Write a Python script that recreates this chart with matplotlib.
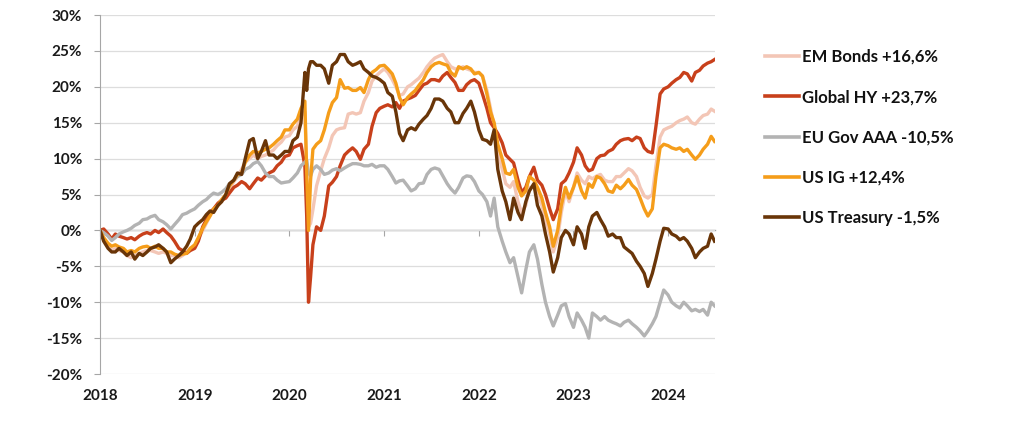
import pandas as pd
import matplotlib
matplotlib.use("Agg")
import matplotlib.pyplot as plt
import matplotlib.dates as mdates
from matplotlib.ticker import MultipleLocator, FuncFormatter

# ── Données (points bimensuels) ──
# dates : 1er et 15 de chaque mois + 2 points extra en mars 2020 + fin juin 2024
dates = list(pd.date_range("2018-01-01", "2024-06-15", freq="SMS"))
dates += [pd.Timestamp("2020-03-08"), pd.Timestamp("2020-03-23"), pd.Timestamp("2024-06-28")]
dates = sorted(dates)

labels = ["EM Bonds +16,6%", "Global HY +23,7%", "EU Gov AAA -10,5%", "US IG +12,4%", "US Treasury -1,5%"]
colors = ["#F3C6B6", "#C8401B", "#B3B3B3", "#F59D1A", "#693508"]

em_bonds = [
    0, -1.2, -2.2, -2.8, -2.5, -2.8, -3.0, -3.5, -3.8, -3.5, -3.2, -3.0, -2.8, -2.8, -3.0, -3.2, -3.0, -3.2, -3.5, -3.5, -3.8, -3.5, -3.0, -2.5,
    -2.2, -1.2, 0.0, 1.0, 2.0, 2.8, 3.5, 4.0, 4.8, 5.8, 6.8, 7.5, 8.5, 9.5, 10.0, 10.5, 10.0, 10.3, 10.5, 10.8, 11.2, 11.8, 12.3, 13.0,
    13.2, 14.0, 14.5, 16.0, 16.5, 8.0, 0.5, 1.0, 2.9, 6.2, 8.3, 10.0, 11.5, 13.2, 14.0, 14.2, 14.3, 16.2, 16.4, 16.2, 16.4, 18.0, 19.2, 20.8, 21.5, 22.0,
    22.5, 22.0, 21.0, 20.0, 18.8, 19.0, 20.0, 20.3, 20.8, 21.2, 22.0, 22.8, 23.5, 24.0, 24.3, 24.5, 23.5, 22.8, 22.5, 22.5, 22.8, 22.5, 22.3, 22.0,
    22.0, 21.5, 19.5, 17.0, 14.5, 11.0, 8.5, 6.5, 6.0, 6.8, 4.0, 2.5, 3.5, 6.0, 6.0, 5.0, 3.5, 1.5, -0.5, -3.0, -1.0, 2.5, 5.5, 4.0,
    6.0, 8.0, 7.0, 6.5, 7.5, 7.2, 7.6, 7.8, 7.0, 6.8, 6.8, 7.5, 7.5, 8.0, 8.6, 8.3, 7.5, 6.0, 4.8, 4.5, 5.0, 9.0, 13.0, 14.0,
    14.3, 14.5, 15.0, 15.3, 15.5, 15.8, 15.0, 14.8, 15.5, 16.0, 16.2, 16.9, 16.6,
]

global_hy = [
    0, 0.2, -0.5, -1.2, -0.5, -0.8, -1.0, -1.2, -1.0, -1.3, -0.8, -0.5, -0.3, -0.5, 0.0, -0.3, 0.2, -0.3, -0.8, -1.5, -2.5, -2.8, -3.2, -2.8,
    -2.5, -1.5, 0.5, 1.5, 2.5, 3.0, 3.8, 4.2, 4.5, 5.2, 6.0, 6.3, 6.8, 6.5, 5.8, 6.5, 7.3, 7.0, 7.6, 8.0, 8.3, 9.0, 9.5, 10.3,
    10.5, 11.5, 11.8, 12.0, 9.0, 2.0, -10.0, -6.5, -2.0, 0.5, 0.0, 2.0, 6.2, 6.7, 7.5, 9.0, 10.5, 11.0, 11.5, 11.0, 9.9, 11.3, 12.0, 14.5, 16.4, 17.0,
    17.3, 17.5, 17.2, 17.8, 17.0, 18.0, 18.3, 18.5, 18.8, 19.5, 20.3, 20.5, 21.0, 21.0, 20.8, 21.5, 22.0, 21.3, 20.6, 19.5, 19.5, 20.3, 20.8, 21.0,
    20.5, 19.0, 17.0, 15.0, 14.3, 13.5, 12.2, 10.5, 9.9, 9.4, 7.0, 5.3, 6.0, 7.5, 8.8, 7.0, 6.3, 5.0, 3.0, 1.5, 3.0, 6.5, 7.0, 8.0,
    9.5, 11.5, 10.5, 9.0, 8.3, 8.5, 10.0, 10.4, 10.5, 11.0, 11.3, 12.0, 12.5, 12.7, 12.8, 12.5, 13.0, 12.8, 11.5, 11.0, 10.8, 14.5, 19.0, 19.7,
    20.0, 20.5, 21.0, 21.3, 22.0, 21.8, 20.8, 22.0, 22.3, 22.9, 23.3, 23.5, 23.8,
]

eu_gov_aaa = [
    0, -0.3, -0.8, -1.4, -1.0, -0.5, -0.2, 0.0, 0.3, 0.7, 1.0, 1.5, 1.6, 1.9, 2.1, 1.5, 1.2, 0.8, 0.2, 0.8, 1.5, 2.2, 2.4, 2.7,
    3.0, 3.5, 4.0, 4.3, 4.8, 5.2, 5.0, 5.3, 5.8, 6.5, 7.0, 7.5, 7.8, 8.5, 8.8, 9.3, 9.6, 9.0, 8.0, 7.5, 7.5, 7.0, 6.6, 6.7,
    6.8, 7.3, 8.0, 9.0, 9.5, 9.8, 8.0, 7.6, 8.5, 9.0, 8.5, 7.8, 8.0, 8.4, 8.6, 8.3, 8.7, 9.0, 9.3, 9.3, 9.2, 9.0, 9.0, 9.2, 8.8, 9.0,
    9.0, 8.5, 7.5, 6.6, 6.9, 7.0, 6.2, 5.5, 5.8, 6.5, 6.6, 7.8, 8.5, 8.7, 8.5, 7.6, 6.5, 5.8, 5.2, 6.0, 7.3, 7.6, 7.5, 6.8,
    5.5, 5.0, 4.0, 2.0, 4.5, 0.5, -1.5, -3.0, -4.5, -3.8, -6.5, -8.7, -5.5, -3.0, -2.0, -4.0, -7.5, -10.0, -12.0, -13.3, -11.8, -10.5, -10.2, -12.0,
    -13.5, -11.5, -12.5, -13.5, -15.0, -11.5, -12.0, -12.5, -12.0, -12.5, -12.8, -13.0, -13.3, -12.8, -12.5, -13.0, -13.5, -14.0, -14.7, -14.0, -13.0, -12.0, -10.0, -8.3,
    -9.0, -10.0, -10.5, -10.8, -10.0, -10.5, -11.2, -11.0, -11.3, -11.0, -11.8, -10.0, -10.5,
]

us_ig = [
    0, -1.0, -1.8, -2.2, -2.0, -2.3, -2.5, -3.0, -2.8, -3.0, -2.5, -2.3, -2.2, -2.5, -2.2, -2.5, -2.5, -3.0, -3.0, -3.3, -3.5, -3.3, -3.2, -2.5,
    -2.0, -1.0, 0.3, 1.2, 2.0, 3.0, 3.5, 4.3, 5.0, 6.2, 7.0, 7.8, 8.0, 9.5, 10.5, 11.0, 10.8, 11.0, 11.3, 11.5, 12.0, 12.5, 13.0, 14.0,
    14.0, 14.8, 15.5, 17.0, 18.0, 8.0, 0.0, 7.0, 11.3, 12.0, 12.5, 14.0, 16.4, 17.8, 18.5, 21.0, 19.8, 19.9, 19.5, 19.5, 19.9, 19.2, 21.0, 22.0, 22.4, 22.9,
    23.0, 22.5, 21.8, 20.5, 18.5, 17.5, 18.5, 19.0, 19.5, 20.2, 21.0, 22.0, 22.8, 23.2, 23.4, 23.2, 23.0, 22.0, 21.5, 22.8, 22.5, 22.8, 22.5, 21.8,
    22.0, 21.5, 19.0, 16.5, 15.0, 12.0, 10.0, 8.0, 7.8, 8.5, 6.0, 4.8, 5.5, 7.5, 7.0, 6.0, 4.5, 2.5, 0.5, -2.2, 0.0, 3.5, 6.0, 4.5,
    6.0, 7.5, 5.5, 4.5, 6.5, 6.0, 7.5, 7.3, 6.5, 5.5, 5.3, 6.3, 5.8, 6.3, 7.1, 6.3, 5.7, 4.5, 3.0, 2.0, 3.0, 7.5, 11.5, 12.0,
    11.8, 11.5, 11.3, 11.5, 11.0, 11.3, 10.5, 9.9, 10.5, 11.3, 12.0, 13.1, 12.4,
]

us_treasury = [
    0, -1.5, -2.5, -3.0, -3.0, -2.5, -3.0, -3.5, -3.0, -4.0, -3.2, -3.5, -3.0, -2.5, -2.3, -2.0, -2.5, -3.0, -4.5, -4.0, -3.5, -3.0, -2.2, -1.2,
    0.5, 1.0, 1.5, 2.2, 2.7, 2.5, 3.5, 4.0, 5.0, 6.5, 7.0, 8.0, 7.8, 10.0, 12.5, 12.8, 10.0, 11.0, 12.5, 10.5, 10.5, 10.0, 10.5, 11.0,
    11.0, 12.5, 13.0, 15.0, 22.0, 19.5, 22.5, 23.5, 23.5, 23.0, 23.0, 22.5, 20.5, 23.0, 23.5, 24.5, 24.5, 23.5, 23.0, 23.2, 23.5, 22.5, 22.0, 21.5, 21.3, 21.0,
    20.5, 19.2, 18.7, 16.5, 13.5, 12.5, 14.0, 14.3, 14.0, 14.8, 15.5, 16.0, 17.0, 18.3, 18.3, 18.0, 17.0, 16.5, 15.0, 15.0, 16.3, 17.0, 18.0, 16.5,
    14.0, 12.7, 12.5, 12.0, 14.0, 8.5, 5.5, 4.0, 1.5, 4.5, 2.5, 1.5, 4.0, 5.5, 6.5, 3.5, 2.0, -0.5, -3.0, -5.8, -3.8, -1.0, 0.0, -0.5,
    -2.0, 0.5, -0.5, -2.5, 0.5, 2.0, 2.5, 1.5, 0.5, -0.8, -0.5, -1.0, -1.0, -2.3, -2.8, -3.2, -4.3, -5.0, -6.0, -7.8, -6.0, -4.0, -1.5, 0.3,
    0.2, -0.5, -0.8, -1.3, -1.0, -1.5, -2.5, -3.8, -3.0, -2.5, -2.2, -0.5, -1.5,
]

series = [em_bonds, global_hy, eu_gov_aaa, us_ig, us_treasury]
for s in series:
    assert len(s) == len(dates), (len(s), len(dates))

# ── Graphique ──
plt.rcParams["font.family"] = ["Lato", "DejaVu Sans"]

fig = plt.figure(figsize=(10.24, 4.23), dpi=100)
ax = fig.add_axes([0.0977, 0.1158, 0.6006, 0.8487])

for vals, lab, col in zip(series, labels, colors):
    ax.plot(dates, vals, color=col, lw=2.4, label=lab, solid_joinstyle="round")

ax.set_ylim(-20, 30)
ax.set_xlim(pd.Timestamp("2018-01-01"), pd.Timestamp("2024-06-30"))
ax.yaxis.set_major_locator(MultipleLocator(5))
ax.yaxis.set_major_formatter(FuncFormatter(lambda v, p: f"{v:.0f}%"))
ax.grid(axis="y", color="#DDDDDD", lw=0.9)
ax.set_axisbelow(True)

for side in ["top", "right", "bottom"]:
    ax.spines[side].set_visible(False)
ax.spines["left"].set_color("#A6A6A6")
ax.tick_params(axis="y", length=4, color="#A6A6A6", labelsize=11, labelcolor="#1a1a1a", pad=9)
for t in ax.get_yticklabels():
    t.set_fontweight("bold")

# labels des années en bas, sans tirets
ax.xaxis.set_major_locator(mdates.YearLocator())
ax.xaxis.set_major_formatter(mdates.DateFormatter("%Y"))
ax.tick_params(axis="x", length=0, labelsize=11, labelcolor="#1a1a1a", pad=11)
for t in ax.get_xticklabels():
    t.set_fontweight("bold")

# axe horizontal à 0 avec tirets
zero_pos = (0 - ax.get_ylim()[0]) / (ax.get_ylim()[1] - ax.get_ylim()[0])
sec = ax.secondary_xaxis(zero_pos)
sec.xaxis.set_major_locator(mdates.YearLocator())
sec.tick_params(axis="x", direction="out", length=4, color="#A6A6A6", labelbottom=False, labeltop=False)
sec.spines["bottom"].set_color("#A6A6A6")
sec.spines["bottom"].set_linewidth(1.0)
sec.set_xticklabels([])

leg = fig.legend(loc="upper left", bbox_to_anchor=(0.7324, 0.9196), frameon=False,
                 handlelength=2.05, handletextpad=0.15, labelspacing=1.45,
                 prop={"size": 12, "weight": "bold"})
for t in leg.get_texts():
    t.set_color("#111111")
for h in leg.get_lines():
    h.set_linewidth(2.6)

fig.savefig("out.png", dpi=100)
